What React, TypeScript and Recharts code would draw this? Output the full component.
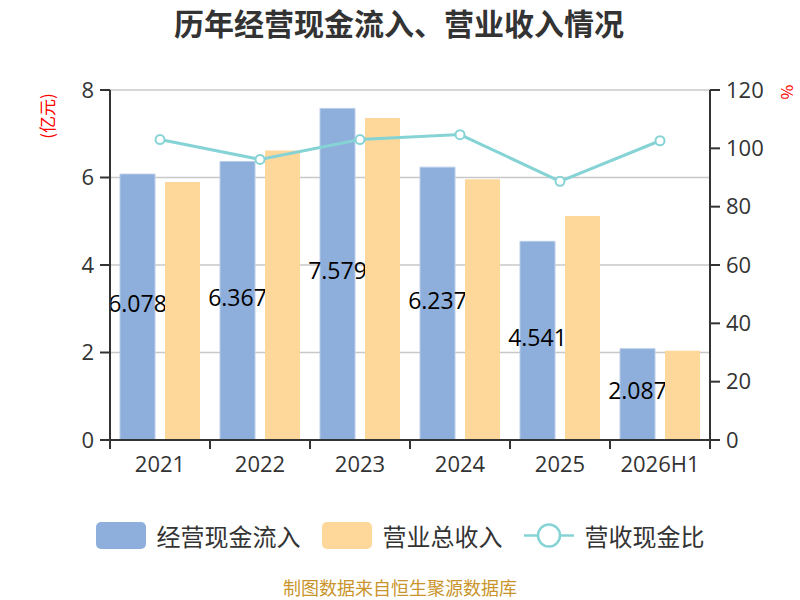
import React from 'react';
import {
  ComposedChart,
  Bar,
  Line,
  XAxis,
  YAxis,
  CartesianGrid,
  Rectangle,
} from 'recharts';

const categories = ['2021', '2022', '2023', '2024', '2025', '2026H1'];
const cashInflow = [6.078, 6.367, 7.579, 6.237, 4.541, 2.087];
const totalRevenue = [5.9, 6.62, 7.36, 5.96, 5.12, 2.04];
const cashRatio = [103.0, 96.2, 103.0, 104.7, 88.7, 102.6];

const leftTicks = [0, 2, 4, 6, 8];
const rightTicks = [0, 20, 40, 60, 80, 100, 120];

const seriesNames = ['经营现金流入', '营业总收入', '营收现金比'];
const titleText = '历年经营现金流入、营业收入情况';
const footerText = '制图数据来自恒生聚源数据库';

const BLUE = '#8eaedb';
const ORANGE = '#fed89a';
const TEAL = '#86d3d6';
const AXIS = '#333333';
const FONT = '"Noto Sans CJK SC", "Noto Sans", sans-serif';
const NUM_FONT = '"Open Sans", "Noto Sans CJK SC", sans-serif';

const data = categories.map((c, i) => ({
  name: c,
  cash: cashInflow[i],
  revenue: totalRevenue[i],
  ratio: cashRatio[i],
}));

const X_TICK_SIZE = 9;
const X_TICK_MARGIN = 7;

const XTick = (props: any) => {
  const { x, y, payload, index, visibleTicksCount } = props;
  const half = payload && typeof payload.offset === 'number' && payload.offset > 0 ? payload.offset : 50;
  const axisY = y - X_TICK_SIZE - X_TICK_MARGIN;
  const isLast = index === visibleTicksCount - 1;
  return (
    <g>
      <line x1={x - half} x2={x - half} y1={axisY} y2={axisY + X_TICK_SIZE} stroke={AXIS} strokeWidth={2} />
      {isLast && (
        <line x1={x + half} x2={x + half} y1={axisY} y2={axisY + X_TICK_SIZE} stroke={AXIS} strokeWidth={2} />
      )}
      <text x={x} y={y} dy="0.72em" textAnchor="middle" fill={AXIS} fontSize={22} fontFamily={NUM_FONT}>
        {payload.value}
      </text>
    </g>
  );
};

// Blue bar drawn with its value label inside the same layer, so the next series covers it.
const CashBarShape = (props: any) => {
  const { x, y, width, height, value } = props;
  const v = Array.isArray(value) ? value[1] : value;
  return (
    <g>
      <Rectangle x={x} y={y} width={width} height={height} fill={BLUE} stroke="#b9cdea" strokeWidth={1} />
      <text
        x={x + width / 2}
        y={y + height / 2 - 3}
        dy="0.35em"
        textAnchor="middle"
        fill="#000"
        fontSize={23}
        fontFamily={NUM_FONT}
      >
        {v}
      </text>
    </g>
  );
};

const LegendItemRect = ({ color, label }: { color: string; label: string }) => (
  <div style={{ display: 'flex', alignItems: 'center', gap: 11 }}>
    <div style={{ width: 50, height: 27, borderRadius: 5, background: color }} />
    <span style={{ fontSize: 24, color: AXIS, fontFamily: FONT, lineHeight: '27px' }}>{label}</span>
  </div>
);

const LegendItemLine = ({ color, label }: { color: string; label: string }) => (
  <div style={{ display: 'flex', alignItems: 'center', gap: 11 }}>
    <svg width={50} height={27}>
      <line x1={0} x2={50} y1={13.5} y2={13.5} stroke={color} strokeWidth={2.5} />
      <circle cx={25} cy={13.5} r={11} fill="#fff" stroke={color} strokeWidth={2.5} />
    </svg>
    <span style={{ fontSize: 24, color: AXIS, fontFamily: FONT, lineHeight: '27px' }}>{label}</span>
  </div>
);

export default function App() {
  return (
    <div style={{ position: 'absolute', left: 0, top: 0, width: 800, height: 600, background: '#fff', fontFamily: FONT }}>
      <ComposedChart
        width={800}
        height={600}
        data={data}
        margin={{ top: 90, right: 30, bottom: 120, left: 50 }}
        barSize={35}
        barGap={10}
      >
        <CartesianGrid yAxisId="left" vertical={false} stroke="#c8c8c8" strokeWidth={1.5} />
        <XAxis
          dataKey="name"
          height={40}
          axisLine={{ stroke: AXIS, strokeWidth: 2 }}
          tickLine={false}
          tickSize={X_TICK_SIZE}
          tickMargin={X_TICK_MARGIN}
          tick={<XTick />}
          interval={0}
        />
        <YAxis
          yAxisId="left"
          orientation="left"
          width={60}
          domain={[0, 8]}
          ticks={leftTicks}
          axisLine={{ stroke: AXIS, strokeWidth: 2 }}
          tickLine={{ stroke: AXIS, strokeWidth: 2 }}
          tickSize={10}
          tickMargin={6}
          tick={{ fill: AXIS, fontSize: 22, fontFamily: NUM_FONT }}
        />
        <YAxis
          yAxisId="right"
          orientation="right"
          width={60}
          domain={[0, 120]}
          ticks={rightTicks}
          axisLine={{ stroke: AXIS, strokeWidth: 2 }}
          tickLine={{ stroke: AXIS, strokeWidth: 2 }}
          tickSize={10}
          tickMargin={6}
          tick={{ fill: AXIS, fontSize: 22, fontFamily: NUM_FONT }}
        />
        <Bar
          yAxisId="left"
          dataKey="cash"
          name={seriesNames[0]}
          fill={BLUE}
          shape={<CashBarShape />}
          isAnimationActive={false}
        />
        <Bar
          yAxisId="left"
          dataKey="revenue"
          name={seriesNames[1]}
          fill={ORANGE}
          isAnimationActive={false}
        />
        <Line
          yAxisId="right"
          type="linear"
          dataKey="ratio"
          name={seriesNames[2]}
          stroke={TEAL}
          strokeWidth={3}
          dot={{ r: 4.5, fill: '#fff', stroke: TEAL, strokeWidth: 2 }}
          isAnimationActive={false}
        />
      </ComposedChart>

      <svg width={800} height={600} style={{ position: 'absolute', left: 0, top: 0, pointerEvents: 'none' }}>
        <text x={399} y={24} dy="0.35em" textAnchor="middle" fontSize={30} fontWeight="bold" fill={AXIS} fontFamily={FONT}>
          {titleText}
        </text>
        <text
          x={48}
          y={116}
          dy="0.35em"
          textAnchor="middle"
          fontSize={17}
          fill="#ff0000"
          fontFamily={FONT}
          transform="rotate(-90 48 116)"
        >
          (亿元)
        </text>
        <text
          x={787}
          y={92}
          dy="0.35em"
          textAnchor="middle"
          fontSize={16}
          fill="#ff0000"
          fontFamily={FONT}
          transform="rotate(90 787 92)"
        >
          %
        </text>
        <text x={400} y={589} dy="0.35em" textAnchor="middle" fontSize={18} fill="#c9952b" fontFamily={FONT}>
          {footerText}
        </text>
      </svg>

      <div
        style={{
          position: 'absolute',
          left: 0,
          top: 522,
          width: 800,
          display: 'flex',
          justifyContent: 'center',
          gap: 21,
        }}
      >
        <LegendItemRect color={BLUE} label={seriesNames[0]} />
        <LegendItemRect color={ORANGE} label={seriesNames[1]} />
        <LegendItemLine color={TEAL} label={seriesNames[2]} />
      </div>
    </div>
  );
}
